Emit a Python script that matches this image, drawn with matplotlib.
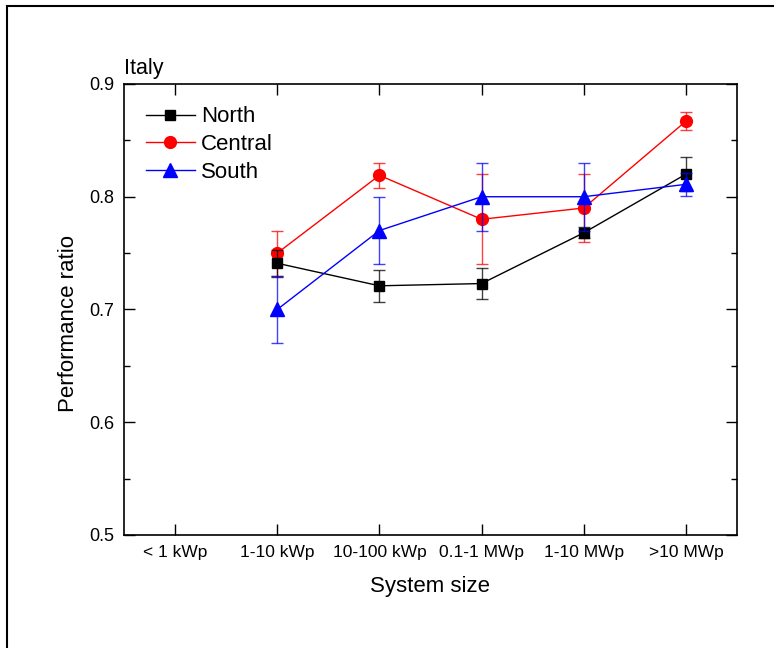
import matplotlib.pyplot as plt
from matplotlib.patches import Rectangle
from matplotlib.ticker import MultipleLocator

plt.rcParams['font.family'] = ['Liberation Sans', 'DejaVu Sans']

# Data
categories = ["< 1 kWp", "1-10 kWp", "10-100 kWp", "0.1-1 MWp", "1-10 MWp", ">10 MWp"]
x_pos = [1, 2, 3, 4, 5, 6]
x_data = [2, 3, 4, 5, 6]

north = [0.741, 0.721, 0.723, 0.768, 0.820]
north_err = [0.012, 0.014, 0.014, 0.005, 0.015]
central = [0.750, 0.819, 0.780, 0.790, 0.867]
central_err = [0.020, 0.011, 0.040, 0.030, 0.008]
south = [0.700, 0.770, 0.800, 0.800, 0.811]
south_err = [0.030, 0.030, 0.030, 0.030, 0.010]

fig = plt.figure(figsize=(7.74, 6.48), dpi=100)
ax = fig.add_axes([0.1602, 0.1744, 0.792, 0.696])

# Outer frame around the figure (right/bottom edges fall off the image)
fig.patches.append(Rectangle((7 / 774, -0.1), 2, 1 - 6 / 648 + 0.1,
                             transform=fig.transFigure, fill=False,
                             edgecolor='black', linewidth=1.5, clip_on=False))

series = [
    ("Central", central, central_err, 'red', 'o', 8.5),
    ("North", north, north_err, 'black', 's', 7.5),
    ("South", south, south_err, 'blue', '^', 9.5),
]
handles = {}
for name, vals, errs, col, mk, ms in series:
    ax.errorbar(x_data, vals, yerr=errs, fmt='none', ecolor=col, elinewidth=1,
                capsize=4, capthick=1, alpha=0.75)
    h, = ax.plot(x_data, vals, color=col, marker=mk, markersize=ms, linewidth=1)
    handles[name] = h

ax.legend([handles["North"], handles["Central"], handles["South"]],
          ["North", "Central", "South"], loc='upper left', frameon=False,
          fontsize=16, handlelength=2.2, handletextpad=0.3, labelspacing=0.3,
          borderaxespad=0.3, bbox_to_anchor=(0.01, 0.985))

ax.set_xlim(0.5, 6.5)
ax.set_ylim(0.5, 0.9)
ax.set_xticks(x_pos)
ax.set_xticklabels(categories, fontsize=12.5)
ax.yaxis.set_major_locator(MultipleLocator(0.1))
ax.yaxis.set_minor_locator(MultipleLocator(0.05))
ax.tick_params(axis='y', labelsize=13)
ax.tick_params(which='major', direction='in', length=8, width=1,
               top=True, right=True, pad=7)
ax.tick_params(which='minor', direction='in', length=4, width=1, right=True)
for s in ax.spines.values():
    s.set_linewidth(1.2)

ax.set_xlabel("System size", fontsize=16, labelpad=12)
ax.set_ylabel("Performance ratio", fontsize=16)
ax.yaxis.set_label_coords(-0.074, 0.468)
ax.text(0.0, 1.012, "Italy", transform=ax.transAxes, fontsize=15.5,
        ha='left', va='bottom')

fig.savefig("out.png", dpi=100)
